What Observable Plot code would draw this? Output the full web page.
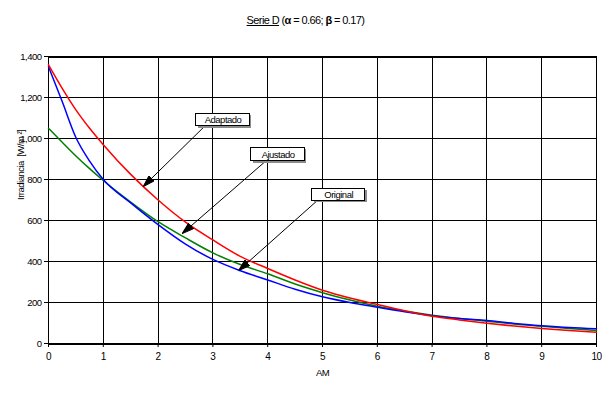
<!DOCTYPE html>
<html>
<head>
<meta charset="utf-8">
<script src="https://cdn.jsdelivr.net/npm/d3@7"></script>
<script src="https://cdn.jsdelivr.net/npm/@observablehq/plot@0.6"></script>
<style>
  body { margin: 0; background: #fff; }
  #wrap { position: relative; width: 613px; height: 399px; font-family: "Liberation Sans", Arial, sans-serif; }
  #title { position: absolute; left: 0; width: 611px; top: 14px; text-align: center; font-size: 11px; color: #000; letter-spacing: -0.6px; }
  #title u { text-decoration: underline; }
  #title b { font-weight: bold; }
</style>
</head>
<body>
<div id="wrap">
  <div id="title"><u>Serie D</u> (<b>α</b> = 0.66; <b>β</b> = 0.17)</div>
</div>
<script>
// Data
const am = [0, 0.25, 0.5, 0.75, 1, 1.5, 2, 2.5, 3, 3.5, 4, 4.5, 5, 5.5, 6, 6.5, 7, 7.5, 8, 8.5, 9, 9.5, 10];
const original = [1350, 1180, 1005, 890, 800, 686, 580, 485, 410, 355, 310, 265, 228, 200, 177, 155, 136, 122, 112, 98, 87, 78, 72];
const ajustado = [1050, 982, 915, 853, 795, 690, 594, 515, 442, 385, 340, 290, 248, 212, 182, 158, 138, 122, 109, 95, 84, 73, 64];
const adaptado = [1360, 1245, 1140, 1050, 970, 825, 700, 592, 505, 425, 366, 310, 260, 222, 190, 160, 133, 115, 99, 85, 73, 63, 55];
const xTicks = [0, 1, 2, 3, 4, 5, 6, 7, 8, 9, 10];
const yTicks = [0, 200, 400, 600, 800, 1000, 1200, 1400];

// Callout boxes and arrows (data units)
const annLabels = ["Adaptado", "Ajustado", "Original"];
const annX1 = [2.70, 3.70, 4.81];
const annX2 = [3.67, 4.68, 5.78];
const annY1 = [1060, 889, 696];
const annY2 = [1120, 955, 756];
const arrFromX = [2.85, 3.96, 4.90];
const arrFromY = [1060, 889, 696];
const arrToX = [1.73, 2.44, 3.47];
const arrToY = [766, 536, 356];

const seriesDefs = [
  {name: "Ajustado", values: ajustado, color: "#008000"},
  {name: "Original", values: original, color: "#0000FF"},
  {name: "Adaptado", values: adaptado, color: "#FF0000"}
];
const ann = annLabels.map((label, i) => ({
  label, x1: annX1[i], x2: annX2[i], y1: annY1[i], y2: annY2[i],
  fx: arrFromX[i], fy: arrFromY[i], tx: arrToX[i], ty: arrToY[i]
}));

function filledArrow() {
  const m = d3.create("svg:marker")
    .attr("viewBox", "-12 -4 12 8")
    .attr("markerWidth", 12)
    .attr("markerHeight", 8)
    .attr("markerUnits", "userSpaceOnUse")
    .attr("refX", 0).attr("refY", 0)
    .attr("orient", "auto");
  m.append("path").attr("d", "M0,0L-12,-3.8L-12,3.8Z").attr("fill", "black");
  return m.node();
}

const font = '"Liberation Sans", Arial, sans-serif';

const marks = [
  Plot.ruleX(xTicks, {stroke: "black", strokeWidth: 1, shapeRendering: "crispEdges"}),
  Plot.ruleY(yTicks, {stroke: "black", strokeWidth: 1, shapeRendering: "crispEdges"}),
  Plot.ruleY([0, 1400], {stroke: "black", strokeWidth: 2, shapeRendering: "crispEdges"}),
  Plot.axisX({ticks: xTicks, tickSize: 4, tickPadding: 5, tickFormat: d => d, label: null, fontSize: 10}),
  Plot.axisY({ticks: yTicks, tickSize: 4, tickPadding: 3, tickFormat: d3.format(","), label: null, fontSize: 9.5}),
  ...seriesDefs.map(s => Plot.line(am.map((x, i) => ({x, y: s.values[i]})), {
    x: "x", y: "y", stroke: s.color, strokeWidth: 1.5, curve: "monotone-x"
  })),
  Plot.link(ann, {x1: "fx", y1: "fy", x2: "tx", y2: "ty", stroke: "black", strokeWidth: 1, markerEnd: filledArrow}),
  Plot.rect(ann, {x1: "x1", x2: "x2", y1: "y1", y2: "y2", fill: "#8c8c8c", dx: 2, dy: 2, shapeRendering: "crispEdges"}),
  Plot.rect(ann, {x1: "x1", x2: "x2", y1: "y1", y2: "y2", fill: "white", stroke: "black", strokeWidth: 1, shapeRendering: "crispEdges"}),
  Plot.text(ann, {x: d => (d.x1 + d.x2) / 2, y: d => (d.y1 + d.y2) / 2, text: "label", fontSize: 9.5, fill: "black"}),
  Plot.text(["Irradiancia  [W/m ²]"], {frameAnchor: "left", dx: -28, rotate: -90, fontSize: 9.5, fill: "black"}),
  Plot.text(["AM"], {frameAnchor: "bottom", dy: 32, fontSize: 9.5, fill: "black"})
];

const chart = Plot.plot({
  width: 613,
  height: 399,
  marginLeft: 48,
  marginRight: 17,
  marginTop: 56,
  marginBottom: 56,
  style: {fontFamily: font, fontSize: "9px", letterSpacing: "-0.5px", color: "black", background: "white", overflow: "visible"},
  x: {domain: [0, 10]},
  y: {domain: [0, 1400]},
  marks
});
document.getElementById("wrap").appendChild(chart);
</script>
</body>
</html>
